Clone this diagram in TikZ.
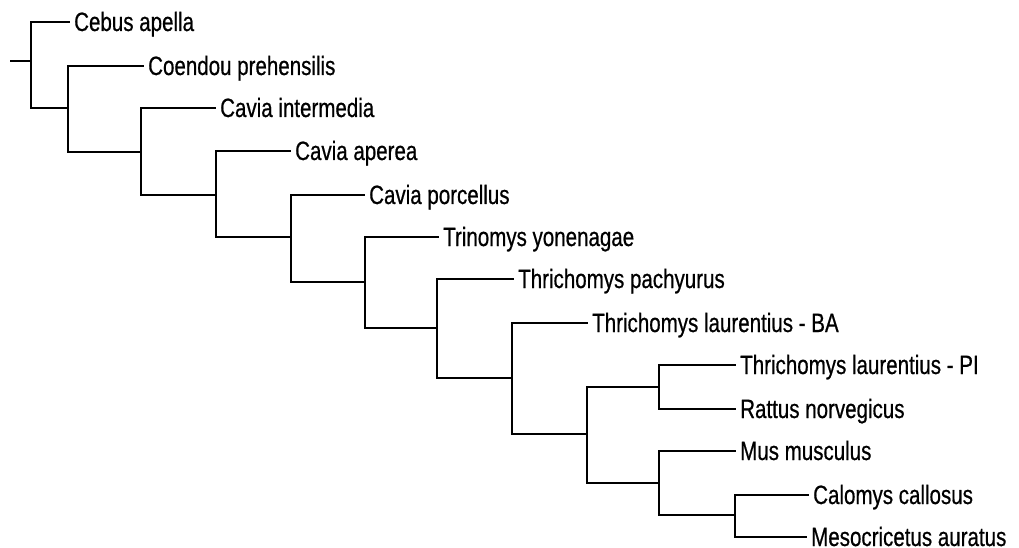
\documentclass[tikz,border=0pt]{standalone}
\usepackage{fontspec}
\setmainfont{Liberation Sans}[FakeStretch=0.775,FakeBold=0.6]
\begin{document}
\begin{tikzpicture}[x=1pt,y=-1pt,
  branch/.style={line width=1.2pt,line cap=rect,line join=miter},
  heavy/.style={branch,line width=2pt},
  taxon/.style={anchor=base west,inner sep=0pt,font=\fontsize{26.5}{30}\selectfont,yshift=-9pt,xshift=5pt}]
\useasboundingbox (0,0) rectangle (1019,548);

% internal nodes (x of split, y where they hang from their parent)
\coordinate (stub) at (11,61);
\coordinate (root) at (31,61);
\coordinate (n1) at (68,108);
\coordinate (n2) at (141,152);
\coordinate (n3) at (216,195);
\coordinate (n4) at (291,237);
\coordinate (n5) at (365,282);
\coordinate (n6) at (437,328);
\coordinate (n7) at (512,378);
\coordinate (n8) at (587,434);
\coordinate (n9) at (659,387);
\coordinate (n10) at (659,483);
\coordinate (n11) at (735,515);

% branch tips
\coordinate (tCeb) at (69,22);
\coordinate (tCoe) at (143,66);
\coordinate (tCin) at (215,108);
\coordinate (tCap) at (290,151);
\coordinate (tCpo) at (364,195);
\coordinate (tTri) at (438,237);
\coordinate (tTpa) at (513,279);
\coordinate (tTba) at (587,323);
\coordinate (tTpi) at (735,365);
\coordinate (tRat) at (735,409);
\coordinate (tMus) at (735,451);
\coordinate (tCal) at (808,495);
\coordinate (tMes) at (806,537);

% taxon labels
\node[taxon] (lCeb) at (tCeb) {Cebus apella};
\node[taxon] (lCoe) at (tCoe) {Coendou prehensilis};
\node[taxon] (lCin) at (tCin) {Cavia intermedia};
\node[taxon] (lCap) at (tCap) {Cavia aperea};
\node[taxon] (lCpo) at (tCpo) {Cavia porcellus};
\node[taxon] (lTri) at (tTri) {Trinomys yonenagae};
\node[taxon] (lTpa) at (tTpa) {Thrichomys pachyurus};
\node[taxon] (lTba) at (tTba) {Thrichomys laurentius - BA};
\node[taxon] (lTpi) at (tTpi) {Thrichomys laurentius - PI};
\node[taxon] (lRat) at (tRat) {Rattus norvegicus};
\node[taxon] (lMus) at (tMus) {Mus musculus};
\node[taxon] (lCal) at (tCal) {Calomys callosus};
\node[taxon] (lMes) at (tMes) {Mesocricetus auratus};

% tree
\draw[branch] (stub) -- (root);
\draw[branch] (root) |- (tCeb);
\draw[branch] (root) |- (n1);
\draw[heavy] (31,108) -- (n1);
\draw[branch] (n1) |- (tCoe);
\draw[branch] (n1) |- (n2);
\draw[branch] (n2) |- (tCin);
\draw[heavy] (141,108) -- (tCin);
\draw[branch] (n2) |- (n3);
\draw[branch] (n3) |- (tCap);
\draw[branch] (n3) |- (n4);
\draw[branch] (n4) |- (tCpo);
\draw[branch] (n4) |- (n5);
\draw[branch] (n5) |- (tTri);
\draw[branch] (n5) |- (n6);
\draw[branch] (n6) |- (tTpa);
\draw[branch] (n6) |- (n7);
\draw[branch] (n7) |- (tTba);
\draw[branch] (n7) |- (n8);
\draw[branch] (n8) |- (n9);
\draw[branch] (n8) |- (n10);
\draw[branch] (n9) |- (tTpi);
\draw[branch] (n9) |- (tRat);
\draw[branch] (n10) |- (tMus);
\draw[branch] (n10) |- (n11);
\draw[branch] (n11) |- (tCal);
\draw[branch] (n11) |- (tMes);
\end{tikzpicture}
\end{document}
